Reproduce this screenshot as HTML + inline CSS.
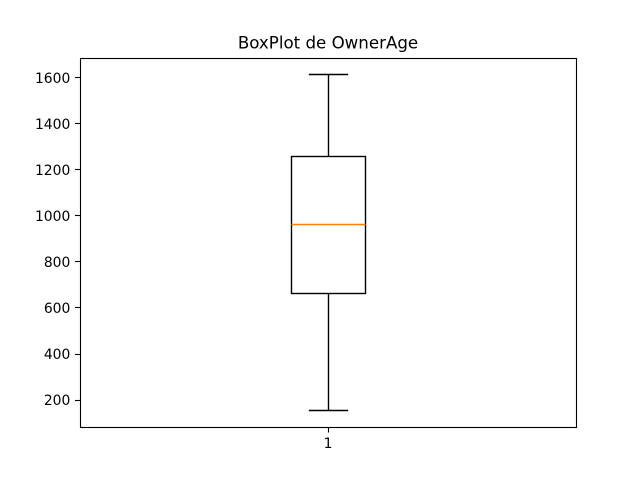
<!DOCTYPE html>
<html>
<head>
<meta charset="utf-8">
<style>
html,body{margin:0;padding:0;background:#fff;}
svg{display:block;}
text{font-family:"DejaVu Sans",sans-serif;fill:#000;}
</style>
</head>
<body>
<svg id="chart" xmlns="http://www.w3.org/2000/svg" width="640" height="480" viewBox="0 0 640 480">
<rect x="0" y="0" width="640" height="480" fill="#fff"/>
<text x="328" y="48.5" font-size="16.67" text-anchor="middle">BoxPlot de OwnerAge</text>
</svg>
<script>
var categories = ['1'];
var whiskerLow = [155];
var q1 = [665];
var median = [965];
var q3 = [1260];
var whiskerHigh = [1615];
var yTickLabels = [200, 400, 600, 800, 1000, 1200, 1400, 1600];
var boxWidth = 0.15;

var svg = document.getElementById('chart');
var NS = 'http://www.w3.org/2000/svg';
var left = 80, right = 576, top_ = 57.6, bottom = 427.2;

var lo = Math.min.apply(null, whiskerLow);
var hi = Math.max.apply(null, whiskerHigh);
var margin = (hi - lo) * 0.05;
var yMin = lo - margin, yMax = hi + margin;
var xMin = 0.5, xMax = categories.length + 0.5;

function xScale(v) { return left + (v - xMin) / (xMax - xMin) * (right - left); }
function yScale(v) { return bottom - (v - yMin) / (yMax - yMin) * (bottom - top_); }
function snap(v) { return Math.round(v) + 0.5; }
function snapTick(v) { return Math.floor(v) + 0.5; }

function line(x1, y1, x2, y2, color, width, cap) {
  var el = document.createElementNS(NS, 'line');
  el.setAttribute('x1', x1);
  el.setAttribute('y1', y1);
  el.setAttribute('x2', x2);
  el.setAttribute('y2', y2);
  el.setAttribute('stroke', color);
  el.setAttribute('stroke-width', width);
  el.setAttribute('stroke-linecap', cap || 'butt');
  svg.appendChild(el);
  return el;
}
function label(x, y, str, anchor) {
  var el = document.createElementNS(NS, 'text');
  el.setAttribute('x', x);
  el.setAttribute('y', y);
  el.setAttribute('font-size', '13.89');
  el.setAttribute('text-anchor', anchor);
  el.textContent = str;
  svg.appendChild(el);
  return el;
}

yTickLabels.forEach(function (t) {
  var y = yScale(t);
  var tick = line(left - 5, snapTick(y), left, snapTick(y), '#000', 1.11);
  
  
  var txt = label(left - 9.7, y + 5, String(t), 'end');
  
  
});

categories.forEach(function (c, i) {
  var pos = i + 1;
  var cx = snap(xScale(pos));
  var xa = snap(xScale(pos - boxWidth / 2)), xb = snap(xScale(pos + boxWidth / 2));
  var ca = snap(xScale(pos - boxWidth / 4)), cb = snap(xScale(pos + boxWidth / 4));
  var yQ1 = snap(yScale(q1[i])), yQ3 = snap(yScale(q3[i])), yMed = snap(yScale(median[i]));
  var yLo = snap(yScale(whiskerLow[i])), yHi = snap(yScale(whiskerHigh[i]));

  var tick = line(cx, snap(bottom), cx, snap(bottom) + 5, '#000', 1.11);
  
  
  var txt = label(xScale(pos), 448, c, 'middle');
  
  

  var wl = line(cx, yQ1, cx, yLo, '#000', 1.39);
  
  
  var wh = line(cx, yQ3, cx, yHi, '#000', 1.39);
  
  
  var cl = line(ca, yLo, cb, yLo, '#000', 1.39, 'square');
  
  
  var ch = line(ca, yHi, cb, yHi, '#000', 1.39, 'square');
  
  

  var box = document.createElementNS(NS, 'rect');
  box.setAttribute('x', xa);
  box.setAttribute('y', yQ3);
  box.setAttribute('width', xb - xa);
  box.setAttribute('height', yQ1 - yQ3);
  box.setAttribute('fill', 'none');
  box.setAttribute('stroke', '#000');
  box.setAttribute('stroke-width', 1.39);
  
  
  svg.appendChild(box);

  var med = line(xa, yMed, xb, yMed, '#ff7f0e', 1.39);
  
  
});

var frame = document.createElementNS(NS, 'rect');
frame.setAttribute('x', snap(left));
frame.setAttribute('y', snap(top_));
frame.setAttribute('width', snap(right) - snap(left));
frame.setAttribute('height', snap(bottom) - snap(top_));
frame.setAttribute('fill', 'none');
frame.setAttribute('stroke', '#000');
frame.setAttribute('stroke-width', 1.11);


svg.appendChild(frame);
</script>
</body>
</html>
